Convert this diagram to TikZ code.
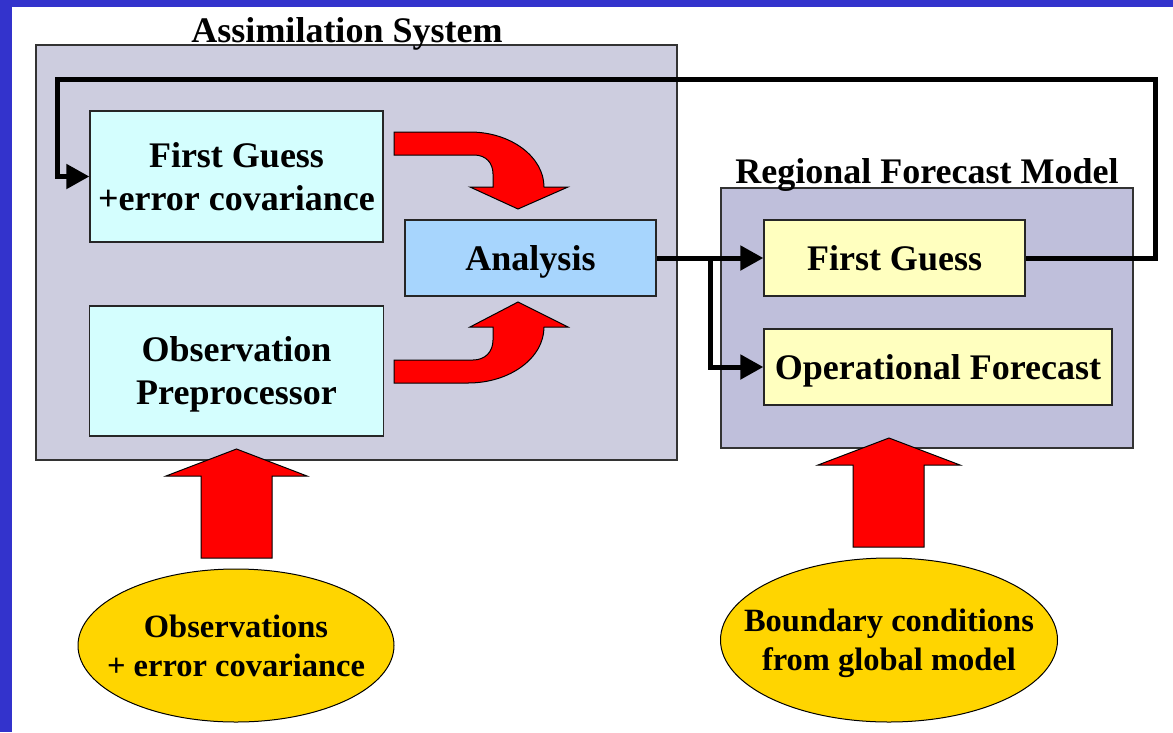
\documentclass[tikz,border=0pt]{standalone}
\usepackage{fontspec}
\setmainfont{Liberation Serif}
\usetikzlibrary{arrows.meta,shapes.geometric}
\definecolor{slideblue}{HTML}{3333CC}
\definecolor{asysfill}{HTML}{CDCDDF}
\definecolor{rfmfill}{HTML}{BFBFDB}
\definecolor{cyanbox}{HTML}{D4FEFE}
\definecolor{anabox}{HTML}{A7D5FD}
\definecolor{yelbox}{HTML}{FFFFBF}
\definecolor{gold}{HTML}{FFD500}
\begin{document}
\begin{tikzpicture}[x=1pt,y=-1pt,
  bigbox/.style={draw=black!80, line width=1.3pt, inner sep=0pt},
  inbox/.style={draw=black!85, line width=1.3pt, inner sep=0pt, text depth=0pt, align=center, font=\bfseries\fontsize{36}{43}\selectfont},
  titletext/.style={anchor=base, inner sep=0pt, font=\bfseries\fontsize{36}{43}\selectfont},
  conn/.style={line width=5pt, -{Triangle[length=23pt,width=24pt]}},
  blockarrow/.style={fill=red, draw=black, line width=1pt, line join=miter},
  oval/.style={ellipse, draw=black, line width=1pt, fill=gold, inner sep=0pt},
  ovaltext/.style={align=center, text depth=0pt, inner sep=0pt, font=\bfseries\fontsize{32.5}{39}\selectfont}]

\useasboundingbox (0,0) rectangle (1173,732);
\fill[white] (0,0) rectangle (1173,732);
\fill[slideblue] (0,0) rectangle (1173,7);
\fill[slideblue] (0,0) rectangle (12,732);

% container boxes
\node[bigbox, fill=asysfill, minimum width=641pt, minimum height=415pt] (asys) at (356.5,252.5) {};
\node[bigbox, fill=rfmfill, minimum width=412pt, minimum height=260pt] (rfm) at (927,318) {};
\node[titletext] (asysT) at (347,42) {Assimilation System};
\node[titletext] (rfmT) at (927,183) {Regional Forecast Model};

% inner boxes
\node[inbox, fill=cyanbox, minimum width=293pt, minimum height=131pt] (fg1) at (236.5,176.5) {First Guess\\+error covariance};
\node[inbox, fill=cyanbox, minimum width=294pt, minimum height=130pt] (obs) at (236.5,371) {Observation\\Preprocessor};
\node[inbox, fill=anabox, minimum width=251pt, minimum height=76pt] (ana) at (530.5,258) {Analysis};
\node[inbox, fill=yelbox, minimum width=261pt, minimum height=76pt] (fg2) at (894.5,258) {First Guess};
\node[inbox, fill=yelbox, minimum width=348pt, minimum height=76pt] (opf) at (938,367) {Operational Forecast};

% ovals
\node[oval, minimum width=316pt, minimum height=153pt] (obsE) at (236,645.5) {};
\node[ovaltext] (obsET) at (obsE.center) {Observations\\+ error covariance};
\node[oval, minimum width=337pt, minimum height=164pt] (bcE) at (889,640) {};
\node[ovaltext] (bcET) at (bcE.center) {Boundary conditions\\from global model};

% connectors
\coordinate (fbR) at (1155,79);
\coordinate (fbL) at (57,79);
\coordinate (br) at (710,258);
\draw[conn] (fg2.east) -| (fbR) -- (fbL) |- (fg1.west);
\draw[conn] (ana.east) -- (fg2.west);
\draw[conn] (br) |- (opf.west);

% curved red arrows
\draw[blockarrow] (394,132) -- (470,132) .. controls (511,132) and (544,157) .. (544,187)
  -- (568,187) -- (518,209) -- (470,187) -- (493,187) -- (493,174)
  .. controls (493,163) and (486,155) .. (474,155) -- (394,155) -- cycle;
\draw[blockarrow] (394,383) -- (468,383) .. controls (510,383) and (544,358) .. (544,327)
  -- (568,327) -- (518,302) -- (470,327) -- (493,327) -- (493,340)
  .. controls (493,352) and (485,360) .. (473,360) -- (394,360) -- cycle;

% straight up arrows
\draw[blockarrow] (201,558) -- (201,476) -- (166,476) -- (236.5,449) -- (307,476) -- (272,476) -- (272,558) -- cycle;
\draw[blockarrow] (853,547) -- (853,465) -- (818,465) -- (889,438) -- (960,465) -- (924,465) -- (924,547) -- cycle;
\end{tikzpicture}
\end{document}
